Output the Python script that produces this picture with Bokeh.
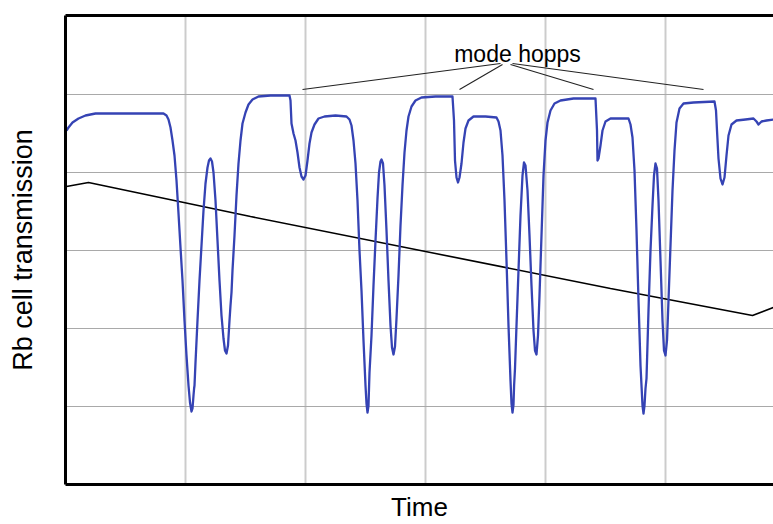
from bokeh.plotting import figure
from bokeh.models import Range1d, FixedTicker, LinearAxis
from bokeh.embed import file_html
from bokeh.resources import INLINE
from bokeh.core.properties import value

# ---- data (arbitrary time units / arbitrary transmission units) ----
time_rb = [1, 3, 7, 13, 20, 30, 55, 75, 98, 101, 103, 105, 107, 109, 111, 113,
           115, 117, 119, 121, 123, 124.5, 126, 127, 128, 128.6, 129, 130, 132,
           134, 136, 138, 140, 142, 143.5, 145, 146.5, 148, 150, 152, 154, 156,
           158, 159.5, 161, 162.5, 164, 165, 166, 167, 169, 171, 173, 175, 177,
           180, 183, 187, 193, 205, 224,
           225, 226, 228, 230, 232, 234, 236, 238, 240, 242, 244, 246, 249, 253,
           259, 270, 281,
           284, 286, 288, 290, 292, 294, 296, 298, 300, 301, 302, 303, 303.6, 304,
           306, 308, 310, 312, 313.5, 315, 316, 317.5, 319, 321, 323, 325, 326.5,
           328, 329.5, 331, 333, 335, 337, 339, 341, 343, 346, 350, 356, 370, 387,
           388.5, 389.5, 391, 392.5, 394, 396, 398, 400, 403, 408, 420, 431,
           433, 435, 437, 439, 441, 443, 445, 446, 447, 448, 448.6, 449.5, 451,
           453, 455, 457, 458.5, 460, 462, 464, 466, 468, 469.5, 471, 472.5, 474,
           476, 478, 480, 482, 485, 489, 495, 508, 530,
           531.5, 532, 533, 535, 537, 540, 545, 563,
           565, 567, 569, 571, 573, 575, 577, 578, 579, 580, 581, 583, 585, 587,
           588.5, 590, 591.5, 593, 595, 597, 598.5, 600, 601.5, 603, 605, 607,
           609, 611, 614, 618, 628, 649,
           650.5, 651.5, 653, 655, 657, 659, 661, 663, 666, 671, 680, 688, 691,
           693, 696, 701, 708]
trans_rb = [354, 357, 362, 366, 369, 371, 371, 371, 371, 369, 365, 357, 344, 329,
            304, 271, 237, 204, 164, 129, 99, 82, 73, 76, 89, 96, 99, 122, 164,
            204, 239, 274, 301, 317, 324, 326, 323, 312, 284, 244, 204, 169, 146,
            134, 131, 139, 164, 179, 192, 214, 249, 289, 321, 344, 361, 372, 380,
            385, 388, 389, 389,
            384, 361, 351, 344, 332, 317, 308, 305, 309, 324, 341, 352, 360, 366,
            368, 369, 368,
            365, 359, 344, 321, 284, 234, 194, 144, 99, 81, 72, 79, 99, 112, 149,
            199, 244, 286, 312, 323, 325, 321, 299, 254, 204, 159, 137, 130, 138,
            166, 209, 259, 299, 332, 354, 368, 378, 384, 387, 388, 388,
            364, 324, 307, 302, 307, 321, 342, 356, 364, 368, 368, 367,
            363, 354, 329, 284, 224, 159, 104, 81, 72, 80, 99, 116, 159, 214, 269,
            309, 322, 319, 294, 249, 199, 154, 134, 130, 149, 189, 249, 309, 344,
            362, 374, 381, 384, 386, 386,
            354, 324, 326, 339, 354, 363, 366, 366,
            360, 347, 314, 254, 184, 119, 79, 71, 79, 96, 106, 174, 234, 279, 309,
            321, 316, 284, 224, 164, 134, 129, 144, 184, 239, 294, 334, 362, 376,
            381, 382, 383,
            374, 354, 326, 306, 300, 307, 329, 349, 360, 364, 365, 366, 363, 360,
            363, 364, 365]

time_ramp = [1, 23, 185, 365, 545, 687, 708]
signal_ramp = [298, 302, 268, 232, 196, 169, 177]

x_ticks = [120, 240, 360, 480, 600]
y_ticks = [78, 156, 234, 312, 390]

hop_label = "mode hopps"
hop_label_pos = (452, 431)
pointer_start_x = [435, 437, 445, 447]
pointer_start_y = [421, 420, 420, 421]
pointer_end_x = [237, 394, 528, 638]
pointer_end_y = [395, 395, 395, 395]

FONT = "Liberation Sans"

p = figure(width=773, height=524, output_backend="svg", toolbar_location=None,
           x_range=Range1d(0, 708), y_range=Range1d(0, 469),
           x_axis_location=None, y_axis_location=None,
           min_border_left=65, min_border_right=0, min_border_top=15,
           min_border_bottom=40)
p.outline_line_color = None
p.background_fill_color = "white"
p.border_fill_color = "white"

def style_axis(ax):
    ax.ticker = FixedTicker(ticks=[])
    ax.major_tick_line_color = None
    ax.minor_tick_line_color = None
    ax.major_tick_out = 0
    ax.major_tick_in = 0
    ax.major_label_text_font_size = "0px"
    ax.major_label_standoff = 0
    ax.axis_line_color = "black"
    ax.axis_line_width = 3
    ax.axis_label_text_font = FONT
    ax.axis_label_text_font_style = "normal"
    ax.axis_label_text_color = "black"

xb = LinearAxis(axis_label="Time")
style_axis(xb)
xb.axis_label_text_font_size = "26px"
xb.axis_label_standoff = 7
p.add_layout(xb, "below")

yl = LinearAxis(axis_label="Rb cell transmission")
style_axis(yl)
yl.axis_label_text_font_size = "27px"
yl.axis_label_standoff = 28
p.add_layout(yl, "left")

xt = LinearAxis()
style_axis(xt)
p.add_layout(xt, "above")

# grids
p.xgrid.ticker = FixedTicker(ticks=x_ticks)
p.xgrid.grid_line_color = "#cccccc"
p.xgrid.grid_line_width = 2
p.ygrid.ticker = FixedTicker(ticks=y_ticks)
p.ygrid.grid_line_color = "#a9a9a9"
p.ygrid.grid_line_width = 1
p.xgrid.minor_grid_line_color = None
p.ygrid.minor_grid_line_color = None

p.line(time_ramp, signal_ramp, line_color="black", line_width=1.6)
p.line(time_rb, trans_rb, line_color="#3543b4", line_width=2.3, line_join="round")

p.segment(pointer_start_x, pointer_start_y, pointer_end_x, pointer_end_y,
          line_color="#222222", line_width=1.1)
p.text([hop_label_pos[0]], [hop_label_pos[1]], text=[hop_label],
       text_font=value(FONT), text_font_size="23px", text_align="center",
       text_baseline="alphabetic", text_color="black")

open("out.html", "w").write(file_html(p, INLINE))
